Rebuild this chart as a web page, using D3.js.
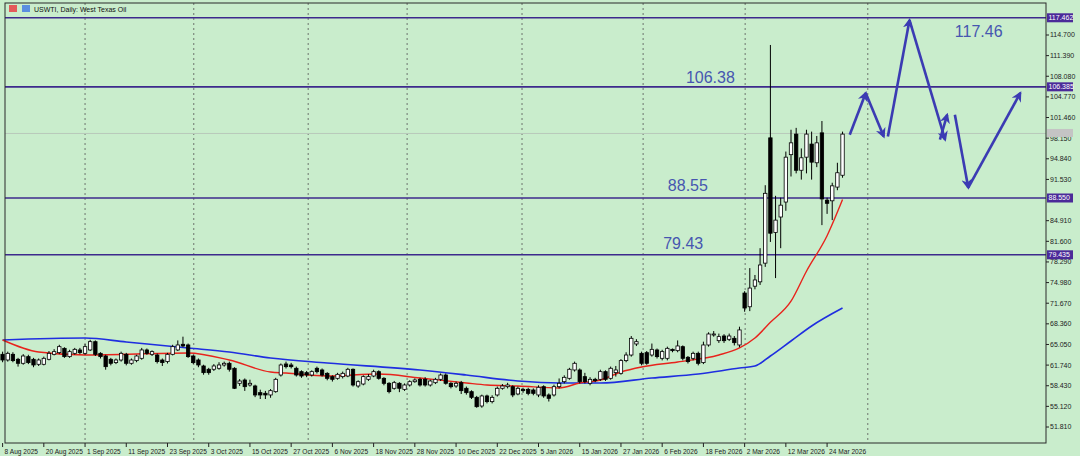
<!DOCTYPE html>
<html><head><meta charset="utf-8">
<script src="https://cdn.jsdelivr.net/npm/d3@7/dist/d3.min.js"></script>
<style>body{margin:0;background:#c9edcc;}svg{display:block;}</style>
</head><body><svg id="c" width="1080" height="456"></svg>
<script>
const opens=[63.47,62.56,63.47,62.67,62.03,63.10,62.67,61.87,61.87,62.67,63.47,63.74,64.43,63.10,63.63,64.17,63.63,64.17,65.50,63.63,63.20,62.67,62.14,62.56,63.47,62.03,62.46,62.83,64.17,63.47,63.36,62.56,62.30,63.47,64.17,65.08,64.97,63.20,62.56,61.60,61.07,61.07,61.23,61.76,62.03,61.23,58.82,59.35,58.55,58.39,57.32,57.22,56.95,57.48,60.15,61.92,61.76,61.23,60.69,60.53,60.15,61.23,60.96,60.42,59.89,59.62,59.89,59.99,61.07,58.39,58.71,59.46,59.99,60.69,59.62,58.82,58.02,58.82,57.85,58.55,59.08,59.46,59.46,58.55,58.92,59.46,60.15,58.82,58.39,58.92,58.02,57.48,56.57,55.18,56.79,55.88,56.95,58.02,58.28,58.28,57.11,57.85,57.85,57.75,56.95,58.28,56.95,56.95,58.28,59.08,59.62,60.96,60.96,59.89,58.82,59.46,59.46,60.69,59.62,60.53,60.42,62.46,63.36,65.13,63.63,63.74,63.36,64.17,62.83,62.83,64.27,64.06,64.70,62.99,62.83,63.63,62.14,64.97,66.57,65.66,66.41,65.88,66.04,64.97,73.3,71.1,74.4,75.1,78.1,98.2,83.0,85.5,87.9,95.5,98.8,93.0,95.1,97.2,94.2,99.0,88.2,88.1,90.3,92.2];
const closes=[62.56,63.63,62.46,62.03,63.20,62.14,61.76,62.56,62.83,63.63,63.90,64.70,63.10,63.90,64.27,63.74,64.70,65.50,63.47,63.10,61.49,62.03,62.56,63.63,62.03,62.56,63.20,64.17,63.63,63.90,62.30,62.14,63.47,64.70,64.97,64.81,63.10,62.14,61.76,60.53,60.53,61.60,61.76,62.03,61.07,58.02,59.19,58.28,58.82,56.95,56.95,56.95,57.64,59.46,61.76,61.49,61.49,60.15,59.99,60.15,60.69,60.69,60.15,59.62,59.46,60.26,60.42,61.07,58.55,59.08,59.89,59.89,60.69,59.62,58.82,57.48,58.92,58.02,58.55,59.08,59.35,58.55,58.55,59.19,59.46,60.15,58.82,58.28,58.82,57.64,57.32,56.57,55.07,56.79,55.88,56.57,58.02,58.39,58.55,56.95,58.02,57.64,57.21,57.21,58.18,56.79,56.41,58.28,58.82,59.78,61.07,62.03,59.08,59.08,59.46,59.24,60.69,59.46,61.23,60.96,62.46,63.36,66.04,65.50,62.03,62.03,64.27,63.10,63.90,64.43,64.06,64.81,62.83,62.30,63.63,62.03,64.97,66.73,66.73,66.31,65.66,66.41,65.34,67.38,70.9,74.1,75.4,77.8,89.3,82.9,85.0,87.4,95.1,97.4,93.0,95.0,98.8,94.3,97.4,88.4,87.7,90.5,92.6,98.8];
const highs=[63.9,63.9,63.8,62.9,63.5,63.4,62.9,62.8,63.1,64.0,64.3,65.0,64.6,64.2,64.5,64.5,65.1,65.8,65.7,63.8,63.4,62.9,62.8,63.9,63.7,62.8,63.4,64.5,64.4,64.1,63.6,62.8,63.7,65.0,65.7,66.3,65.2,63.4,62.8,61.8,61.3,61.9,62.2,62.3,62.3,61.4,59.5,59.6,59.4,58.6,57.8,57.6,57.9,59.7,62.0,62.3,62.1,61.5,60.9,60.8,60.9,61.5,61.2,60.6,60.1,60.5,60.7,61.3,61.2,59.3,60.1,60.3,61.0,60.9,59.8,59.0,59.2,59.0,58.8,59.3,59.6,59.7,59.8,59.4,59.7,60.4,60.4,59.0,59.1,59.2,58.3,57.7,56.8,57.0,57.0,56.9,58.3,58.7,58.9,58.5,58.3,58.1,58.1,58.0,58.5,58.5,57.2,58.6,59.6,60.1,61.3,62.3,61.2,60.5,59.8,59.7,61.0,60.9,61.5,61.6,62.7,63.8,66.4,65.9,63.9,64.0,65.2,64.4,64.2,64.7,64.4,65.7,64.9,63.2,63.9,63.9,65.5,67.0,67.2,66.8,66.7,66.8,66.4,67.9,73.6,77.3,76.2,80.5,90.6,113.1,88.9,88.6,96.0,99.5,99.8,96.5,99.5,99.2,98.5,100.9,88.6,91.0,94.2,99.2];
const lows=[62.2,62.3,62.2,61.5,61.8,61.9,61.4,61.6,61.7,62.5,63.3,63.5,62.9,62.9,63.4,63.5,63.4,64.0,63.2,62.8,61.0,61.7,61.9,62.3,61.7,61.8,62.2,62.6,63.4,63.2,62.0,61.6,62.0,63.3,64.0,64.6,62.9,61.9,61.4,60.2,60.2,60.8,61.0,61.5,60.7,57.9,58.4,57.6,58.3,56.6,56.3,56.3,56.5,57.3,59.9,61.2,61.2,59.9,59.7,59.8,59.9,60.4,59.9,59.3,59.1,59.4,59.6,59.8,58.3,58.1,58.5,59.2,59.8,59.4,58.5,57.2,57.8,57.4,57.6,58.3,58.9,58.3,58.3,58.3,58.7,59.2,58.6,58.0,58.1,57.1,57.0,56.3,54.9,54.9,55.6,55.6,56.7,57.8,58.0,56.6,56.9,57.3,56.9,56.9,56.6,56.5,55.9,56.7,58.0,58.8,59.4,60.7,58.8,58.8,58.5,59.0,59.2,59.2,59.4,59.9,60.2,62.2,63.1,64.8,61.7,61.8,63.1,62.8,62.5,62.5,63.8,63.8,62.5,62.0,62.5,61.7,61.9,64.7,66.3,65.3,65.3,65.6,64.9,64.6,70.3,70.4,73.9,74.6,77.5,81.5,75.7,80.5,86.5,92.0,92.5,91.5,92.5,91.5,93.5,84.2,86.0,85.0,89.8,91.8];
const maFast=[[0,65.77],[7,63.84],[16,63.36],[36,63.68],[44,62.56],[52,60.63],[55,60.47],[63,59.99],[73,60.31],[81,59.67],[90,58.87],[94,58.55],[100,58.39],[108,58.07],[112,58.87],[116,59.35],[120,60.63],[124,61.43],[131,62.24],[139,63.36],[143,64.49],[146,66.09],[149,68.6],[153,72.0],[156,76.8],[160,82.5],[163,88.3]];
const maSlow=[[0,65.77],[16,66.09],[24,65.45],[36,64.49],[44,63.84],[52,62.88],[63,62.08],[81,60.95],[90,60.15],[100,59.19],[108,58.87],[116,58.87],[126,59.67],[135,60.31],[143,61.27],[146,61.59],[149,63.2],[153,65.61],[157,68.02],[163,70.9]];
const levels=[117.462,106.385,88.550,79.435];
const levelTexts=[["117.46",184.8,114.4],["106.38",132.6,107.0],["88.55",129.1,89.6],["79.43",128.2,80.3]];
const priceTicks=[114.700,111.390,108.080,104.770,101.460,98.150,94.840,91.530,84.910,81.600,78.290,74.980,71.670,68.360,65.050,61.740,58.430,55.120,51.810];
const dateLabels=["8 Aug 2025","20 Aug 2025","1 Sep 2025","11 Sep 2025","23 Sep 2025","3 Oct 2025","15 Oct 2025","27 Oct 2025","6 Nov 2025","18 Nov 2025","28 Nov 2025","10 Dec 2025","22 Dec 2025","5 Jan 2026","15 Jan 2026","27 Jan 2026","6 Feb 2026","18 Feb 2026","2 Mar 2026","12 Mar 2026","24 Mar 2026"];
const gridIdx=[16,37.1,59.3,78.5,100.8,124.3,144.1,167.9];
const arrows=[[[164.4,98.7],[167.5,105.4]],[[167.5,105.4],[171,98.4]],[[171.8,98.4],[176,117.1]],[[176,117.1],[182.9,97.9]],[[181.9,97.9],[183.3,101.9]],[[184.8,101.9],[187.4,90.2]],[[187.4,90.2],[197.5,105.4]]];
const currentPrice=98.9;

const svg=d3.select("#c");
const L=5,R=1046,T=3,B=443;
const x=d3.scaleLinear().domain([0,200]).range([2.6,2.6+5.153*200]);
const y=d3.scaleLinear().domain([51.81,114.7]).range([427,35]);
svg.append("rect").attr("width",1080).attr("height",456).attr("fill","#c9edcc");
const g=svg.append("g");
g.selectAll(".grid").data(gridIdx).join("line").attr("x1",d=>x(d)).attr("x2",d=>x(d)).attr("y1",T).attr("y2",B).attr("stroke","#555").attr("stroke-dasharray","2,3").attr("stroke-width",0.8);
g.append("line").attr("x1",L).attr("x2",R).attr("y1",y(currentPrice)).attr("y2",y(currentPrice)).attr("stroke","#b9c9bb").attr("stroke-width",1);
g.selectAll(".lv").data(levels).join("line").attr("x1",L).attr("x2",R).attr("y1",d=>y(d)).attr("y2",d=>y(d)).attr("stroke","#3d2a8c").attr("stroke-width",1.6);
const line=d3.line().x(d=>x(d[0])).y(d=>y(d[1])).curve(d3.curveMonotoneX);
g.append("path").attr("d",line(maSlow)).attr("fill","none").attr("stroke","#1f2ee0").attr("stroke-width",1.6);
g.append("path").attr("d",line(maFast)).attr("fill","none").attr("stroke","#e8231c").attr("stroke-width",1.4);
const idx=d3.range(opens.length);
g.selectAll(".wick").data(idx).join("line").attr("x1",i=>x(i)).attr("x2",i=>x(i)).attr("y1",i=>y(highs[i])).attr("y2",i=>y(lows[i])).attr("stroke","#000").attr("stroke-width",1);
g.selectAll(".body").data(idx).join("rect").attr("x",i=>x(i)-1.7).attr("width",3.4)
 .attr("y",i=>y(Math.max(opens[i],closes[i]))).attr("height",i=>Math.max(1,Math.abs(y(opens[i])-y(closes[i]))))
 .attr("fill",i=>closes[i]>=opens[i]?"#fff":"#000").attr("stroke","#000").attr("stroke-width",0.8);
const defs=svg.append("defs");
defs.append("marker").attr("id","ah").attr("viewBox","0 0 10 10").attr("refX",8).attr("refY",5).attr("markerWidth",4).attr("markerHeight",4).attr("orient","auto")
 .append("path").attr("d","M0,0 L10,5 L0,10 L3,5 Z").attr("fill","#3b3bb3");
g.selectAll(".arr").data(arrows).join("line").attr("x1",d=>x(d[0][0])).attr("y1",d=>y(d[0][1])).attr("x2",d=>x(d[1][0])).attr("y2",d=>y(d[1][1]))
 .attr("stroke","#3b3bb3").attr("stroke-width",2.6).attr("marker-end","url(#ah)");
g.selectAll(".lt").data(levelTexts).join("text").attr("x",d=>x(d[1])).attr("y",d=>y(d[2])).text(d=>d[0])
 .attr("font-family","Liberation Sans, Arial").attr("font-size",16).attr("fill","#4656b0");
svg.append("rect").attr("x",L).attr("y",T).attr("width",R-L).attr("height",B-T).attr("fill","none").attr("stroke","#2a2a2a").attr("stroke-width",1);
const ax=svg.append("g").attr("font-family","Liberation Sans, Arial").attr("font-size",7).attr("fill","#222");
ax.selectAll(".pt").data(priceTicks).join("line").attr("x1",R).attr("x2",R+3).attr("y1",d=>y(d)).attr("y2",d=>y(d)).attr("stroke","#222");
ax.selectAll(".ptl").data(priceTicks).join("text").attr("x",R+4).attr("y",d=>y(d)+2.4).text(d=>d.toFixed(3));
levels.forEach(v=>{
 ax.append("rect").attr("x",R+1).attr("y",y(v)-4.5).attr("width",26).attr("height",9).attr("fill","#4b2a99");
 ax.append("text").attr("x",R+2.5).attr("y",y(v)+2.5).attr("fill","#fff").text(v.toFixed(3));
});
ax.append("rect").attr("x",R+1).attr("y",y(currentPrice)-4.5).attr("width",26).attr("height",8).attr("fill","#c4c4c4");
const dl=ax.selectAll(".dl").data(dateLabels).join("g").attr("transform",(d,i)=>`translate(${x(i*8)},${B})`);
dl.append("line").attr("y1",0).attr("y2",4).attr("stroke","#222");
dl.append("text").attr("x",2).attr("y",10.5).attr("font-size",6.6).text(d=>d);
svg.append("rect").attr("x",9).attr("y",5).attr("width",8).attr("height",7).attr("fill","#e45a5a");
svg.append("rect").attr("x",22).attr("y",5).attr("width",8).attr("height",7).attr("fill","#5a8ee0");
svg.append("text").attr("x",34).attr("y",11.5).attr("font-family","Liberation Sans, Arial").attr("font-size",7).attr("fill","#111").text("USWTI, Daily:  West Texas Oil");
</script></body></html>
